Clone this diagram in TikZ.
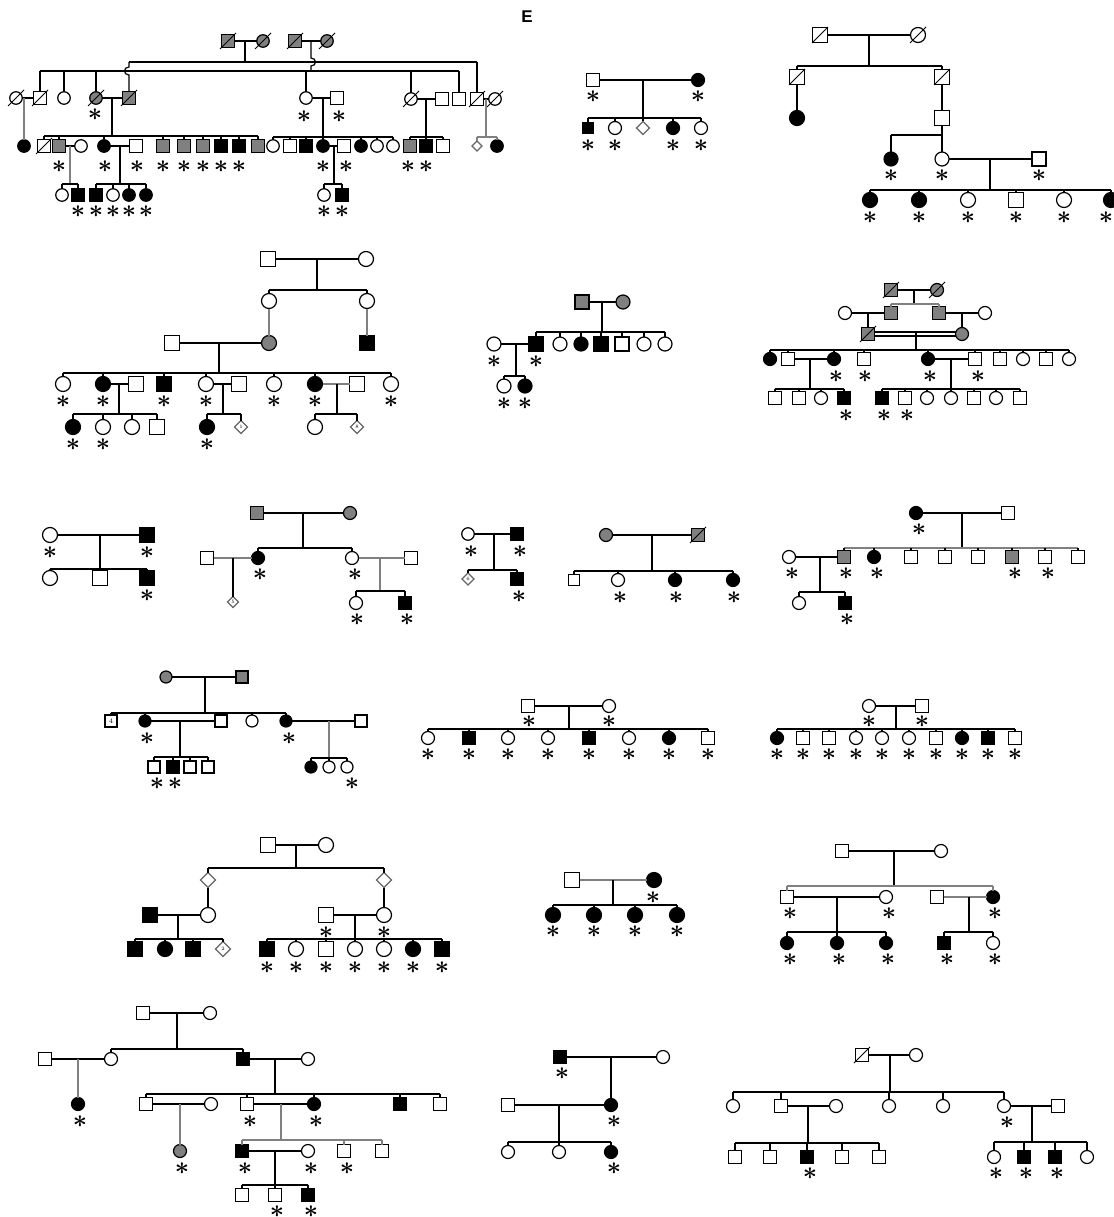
\documentclass[tikz,border=0pt]{standalone}
\usepackage{fontspec}
\newfontfamily\arialfont{Liberation Sans}
\usetikzlibrary{shapes.geometric,calc}
\colorlet{gy}{black!50}
\colorlet{gl}{black!50}
\newcounter{astc}
\def\symsz{13pt}
\tikzset{
  ln/.style={line width=1.2pt,draw=black},
  gln/.style={line width=1.2pt,draw=gl},
  sym/.style={draw=black,line width=1.2pt,inner sep=0pt,outer sep=0pt},
  msym/.style={sym,rectangle,minimum size=\symsz},
  fsym/.style={sym,circle,minimum size=\symsz},
  dsym/.style={sym,diamond,minimum size=\symsz,draw=black!60,font=\fontsize{5}{5}\selectfont},
  ast/.style={inner sep=0pt,font=\fontsize{25}{25}\selectfont\boldmath},
  dec/.style={line width=0.9pt,draw=black},
}
\newcommand\Ma[4][white]{\node[msym,fill=#1] (#2) at (#3,#4) {};}
\newcommand\Fe[4][white]{\node[fsym,fill=#1] (#2) at (#3,#4) {};}
\newcommand\Di[5][white]{\node[dsym,fill=#1] (#2) at (#3,#4) {#5};}
\newcommand\As[2]{\stepcounter{astc}\node[ast] (ast\theastc) at (#1,#2) {$\ast$};}
\newcommand\Dd[1]{\draw[dec] ([shift={(-8,8)}]#1.center) -- ([shift={(8,-8)}]#1.center);}
\newcommand\Sb[4][ln]{\draw[#1] (#2 -| #3) -- (#2 -| #4);}
\newcommand\Tk[3][ln]{\foreach \nd in {#3}{\draw[#1] (#2 -| \nd) -- (\nd);}}
\begin{document}
\begin{tikzpicture}[x=1pt,y=-1pt]
\fill[white] (0,0) rectangle (1113,1217);
\useasboundingbox (0,0) rectangle (1113,1217);
\node[font=\fontsize{17}{17}\arialfont\bfseries] (lblE) at (527,17) {E};

% ================= A
\def\symsz{12.5pt}
\Ma[gy]{aI1}{228}{41}\Dd{aI1}
\Fe[gy]{aI2}{263}{41}\Dd{aI2}
\Ma[gy]{aI3}{295}{41}\Dd{aI3}
\Fe[gy]{aI4}{327}{41}\Dd{aI4}
\draw[ln] (aI1)--(aI2); \draw[ln] (aI3)--(aI4);
\coordinate (aj1) at (245,41); \coordinate (as1) at (245,62);
\coordinate (aj2) at (311,41); \coordinate (as2) at (311,71);
\draw[ln] (aj1)--(as1);
\draw[ln] (aj2)--(311,58) .. controls (317,58) and (317,66) .. (311,66) -- (as2);
\Fe{aII1}{16}{98}\Dd{aII1}
\Ma{aII2}{40}{98}\Dd{aII2}
\Fe{aII3}{64}{98}
\Fe[gy]{aII4}{96}{98}\Dd{aII4}\As{95}{115}
\Ma[gy]{aII5}{129}{98}\Dd{aII5}
\Fe{aII6}{306}{98}\As{304}{117}
\Ma{aII7}{337}{98}\As{339}{117}
\Fe{aII8}{411}{99}\Dd{aII8}
\Ma{aII9}{442}{99}
\Ma{aII10}{459}{99}
\Ma{aII11}{477}{99}\Dd{aII11}
\Fe{aII12}{495}{99}\Dd{aII12}
\Sb{as1}{aII5}{aII11}
\Sb{as2}{aII2}{aII10}
\Tk{as2}{aII2,aII3,aII4,aII6,aII8,aII10}
\Tk{as1}{aII11}
\draw[ln] (aII5)--(129,75) .. controls (123,75) and (123,67) .. (129,67) -- (as1 -| aII5);
% gen III
\Fe[black]{aIII1}{24}{146}
\Ma{aIII2}{44}{146}\Dd{aIII2}
\Ma[gy]{aIII3}{59}{146}\As{59}{167}
\Fe{aIII4}{81}{146}
\Fe[black]{aIII5}{104}{146}\As{105}{167}
\Ma{aIII6}{136}{146}\As{137}{167}
\Ma[gy]{aIII7}{163}{146}\As{163}{167}
\Ma[gy]{aIII8}{184}{146}\As{184}{167}
\Ma[gy]{aIII9}{203}{146}\As{203}{167}
\Ma[black]{aIII10}{221}{146}\As{221}{167}
\Ma[black]{aIII11}{239}{146}\As{239}{167}
\Ma[gy]{aIII12}{258}{146}
\Fe{aIII13}{273}{146}
\Ma{aIII14}{290}{146}
\Ma[black]{aIII15}{306}{146}
\Fe[black]{aIII16}{323}{146}\As{323}{167}
\Ma{aIII17}{344}{146}\As{346}{167}
\Fe[black]{aIII18}{361}{146}
\Fe{aIII19}{377}{146}
\Fe{aIII20}{393}{146}
\Ma[gy]{aIII21}{410}{146}\As{408}{167}
\Ma[black]{aIII22}{426}{146}\As{426}{167}
\Ma{aIII23}{443}{146}
\def\symsz{10pt}\Di{aIII24}{477}{146}{}\def\symsz{12.5pt}
\Fe[black]{aIII25}{497}{146}
\draw[ln] (aII1)--(aII2); \coordinate (aj3) at (24,98); \draw[gln] (aj3)--(aIII1);
\draw[ln] (aII4)--(aII5); \coordinate (aj4) at (112,98); \coordinate (as4) at (112,136); \draw[ln] (aj4)--(as4);
\draw[ln] (aII6)--(aII7); \coordinate (aj5) at (323,98); \coordinate (as5) at (323,137); \draw[ln] (aj5)--(as5);
\draw[ln] (aII8)--(aII9); \coordinate (aj6) at (426,99); \coordinate (as6) at (426,137); \draw[ln] (aj6)--(as6);
\draw[ln] (aII11)--(aII12); \coordinate (aj7) at (486,99); \coordinate (as7) at (486,137); \draw[gln] (aj7)--(as7);
\Sb{as4}{aIII2}{aIII12}\Tk{as4}{aIII2,aIII3,aIII5,aIII7,aIII8,aIII9,aIII10,aIII11,aIII12}
\Sb{as5}{aIII13}{aIII20}\Tk{as5}{aIII13,aIII14,aIII15,aIII16,aIII18,aIII19,aIII20}
\Sb{as6}{aIII21}{aIII23}\Tk{as6}{aIII21,aIII22,aIII23}
\Sb[gln]{as7}{aIII24}{aIII25}\Tk[gln]{as7}{aIII24,aIII25}
\draw[ln] (aIII3)--(aIII4); \coordinate (aj8) at (70,146); \coordinate (as8) at (70,184); \draw[gln] (aj8)--(as8);
\draw[ln] (aIII5)--(aIII6); \coordinate (aj9) at (120,146); \coordinate (as9) at (120,184); \draw[ln] (aj9)--(as9);
\draw[ln] (aIII16)--(aIII17); \coordinate (aj10) at (334,146); \coordinate (as10) at (334,184); \draw[ln] (aj10)--(as10);
% gen IV
\Fe{aIV1}{62}{195}
\Ma[black]{aIV2}{78}{195}\As{78}{212}
\Ma[black]{aIV3}{96}{195}\As{96}{212}
\Fe{aIV4}{113}{195}\As{113}{212}
\Fe[black]{aIV5}{129}{195}\As{129}{212}
\Fe[black]{aIV6}{146}{195}\As{146}{212}
\Fe{aIV7}{324}{195}\As{324}{212}
\Ma[black]{aIV8}{342}{195}\As{342}{212}
\Sb{as8}{aIV1}{aIV2}\Tk{as8}{aIV1,aIV2}
\Sb{as9}{aIV3}{aIV6}\Tk{as9}{aIV3,aIV4,aIV5,aIV6}
\Sb{as10}{aIV7}{aIV8}\Tk{as10}{aIV7,aIV8}

% ================= B
\def\symsz{13pt}
\Ma{bI1}{593}{80}\As{593}{97}
\Fe[black]{bI2}{698}{80}\As{698}{97}
\draw[ln] (bI1)--(bI2);
\coordinate (bj1) at (643,80); \coordinate (bs1) at (643,118); \draw[ln] (bj1)--(bs1);
\def\symsz{11pt}\Ma[black]{bII1}{588}{128}\def\symsz{13pt}
\Fe{bII2}{615}{128}\Di{bII3}{643}{128}{}\Fe[black]{bII4}{673}{128}\Fe{bII5}{701}{128}
\As{588}{146}\As{615}{146}\As{673}{146}\As{701}{146}
\Sb{bs1}{bII1}{bII5}\Tk{bs1}{bII1,bII2,bII3,bII4,bII5}

% ================= C
\def\symsz{15pt}
\Ma{cI1}{820}{35}\Dd{cI1}\Fe{cI2}{918}{35}\Dd{cI2}
\draw[ln] (cI1)--(cI2); \coordinate (cj1) at (869,35); \coordinate (cs1) at (869,66); \draw[ln] (cj1)--(cs1);
\Ma{cII1}{797}{77}\Dd{cII1}\Ma{cII2}{942}{77}\Dd{cII2}
\Sb{cs1}{cII1}{cII2}\Tk{cs1}{cII1,cII2}
\Fe[black]{cIII1}{797}{118}\draw[ln] (cII1)--(cIII1);
\Ma{cIII2}{942}{118}\draw[ln] (cII2)--(cIII2);
\coordinate (cs2) at (942,135); \draw[ln] (cIII2)--(cs2);
\def\symsz{14pt}
\Fe[black]{cIV1}{891}{159}\As{891}{176}
\Fe{cIV2}{942}{159}\As{942}{176}
\Sb{cs2}{cIV1}{cIV2}\Tk{cs2}{cIV1,cIV2}
\Ma{cIV3}{1039}{159}\As{1039}{176}
\draw[ln] (cIV2)--(cIV3); \coordinate (cj3) at (990,159); \coordinate (cs3) at (990,190); \draw[ln] (cj3)--(cs3);
\def\symsz{15pt}
\Fe[black]{cV1}{870}{200}\Fe[black]{cV2}{919}{200}\Fe{cV3}{968}{200}\Ma{cV4}{1016}{200}\Fe{cV5}{1064}{200}\Fe[black]{cV6}{1111}{200}
\As{870}{218}\As{919}{218}\As{968}{218}\As{1016}{218}\As{1064}{218}\As{1106}{218}
\Sb{cs3}{cV1}{cV6}\Tk{cs3}{cV1,cV2,cV3,cV4,cV5,cV6}

% ================= D
\def\symsz{15pt}
\Ma{dI1}{268}{259}\Fe{dI2}{366}{259}
\draw[ln] (dI1)--(dI2); \coordinate (dj1) at (317,259); \coordinate (ds1) at (317,290); \draw[ln] (dj1)--(ds1);
\Fe{dII1}{269}{301}\Fe{dII2}{367}{301}
\Sb{ds1}{dII1}{dII2}\Tk{ds1}{dII1,dII2}
\Ma{dIII1}{172}{343}\Fe[gy]{dIII2}{269}{343}\Ma[black]{dIII3}{367}{343}
\draw[gln] (dII1)--(dIII2); \draw[gln] (dII2)--(dIII3);
\draw[ln] (dIII1)--(dIII2); \coordinate (dj2) at (219,343); \coordinate (ds2) at (219,373); \draw[ln] (dj2)--(ds2);
\Fe{dIV1}{63}{384}\As{63}{402}
\Fe[black]{dIV2}{103}{384}\As{103}{402}
\Ma{dIV3}{136}{384}
\Ma[black]{dIV4}{164}{384}\As{164}{402}
\Fe{dIV5}{206}{384}\As{206}{402}
\Ma{dIV6}{239}{384}
\Fe{dIV7}{274}{384}\As{274}{402}
\Fe[black]{dIV8}{315}{384}\As{315}{402}
\Ma{dIV9}{357}{384}
\Fe{dIV10}{391}{384}\As{391}{402}
\Sb{ds2}{dIV1}{dIV10}\Tk{ds2}{dIV1,dIV2,dIV4,dIV5,dIV7,dIV8,dIV10}
\draw[ln] (dIV2)--(dIV3); \coordinate (dj3) at (119,384); \coordinate (ds3) at (119,414); \draw[ln] (dj3)--(ds3);
\draw[ln] (dIV5)--(dIV6); \coordinate (dj4) at (223,384); \coordinate (ds4) at (223,414); \draw[ln] (dj4)--(ds4);
\draw[gln] (dIV8)--(dIV9); \coordinate (dj5) at (337,384); \coordinate (ds5) at (337,414); \draw[ln] (dj5)--(ds5);
\Fe[black]{dV1}{73}{427}\As{73}{445}
\Fe{dV2}{103}{427}\As{103}{445}
\Fe{dV3}{132}{427}
\Ma{dV4}{157}{427}
\Fe[black]{dV5}{207}{427}\As{207}{445}
\def\symsz{13pt}\Di{dV6}{241}{427}{1}\def\symsz{15pt}
\Fe{dV7}{315}{427}
\def\symsz{13pt}\Di{dV8}{357}{427}{8}\def\symsz{15pt}
\Sb{ds3}{dV1}{dV4}\Tk{ds3}{dV1,dV2,dV3,dV4}
\Sb{ds4}{dV5}{dV6}\Tk{ds4}{dV5,dV6}
\Sb{ds5}{dV7}{dV8}\Tk{ds5}{dV7,dV8}

% ================= F
\def\symsz{14pt}
\Ma[gy]{fI1}{582}{302}\Fe[gy]{fI2}{623}{302}
\draw[ln] (fI1)--(fI2); \coordinate (fj1) at (602,302); \coordinate (fs1) at (602,332); \draw[ln] (fj1)--(fs1);
\Fe{fII1}{494}{344}\As{494}{362}
\Ma[black]{fII2}{536}{344}\As{536}{362}
\Fe{fII3}{560}{344}\Fe[black]{fII4}{581}{344}\Ma[black]{fII5}{601}{344}\Ma{fII6}{622}{344}\Fe{fII7}{644}{344}\Fe{fII8}{665}{344}
\Sb{fs1}{fII2}{fII8}\Tk{fs1}{fII2,fII3,fII4,fII5,fII6,fII7,fII8}
\draw[ln] (fII1)--(fII2); \coordinate (fj2) at (516,344); \coordinate (fs2) at (516,376); \draw[ln] (fj2)--(fs2);
\Fe{fIII1}{504}{386}\As{504}{404}
\Fe[black]{fIII2}{525}{386}\As{525}{404}
\Sb{fs2}{fIII1}{fIII2}\Tk{fs2}{fIII1,fIII2}

% ================= G
\def\symsz{13pt}
\Ma[gy]{gI1}{891}{290}\Dd{gI1}\Fe[gy]{gI2}{937}{290}\Dd{gI2}
\draw[ln] (gI1)--(gI2); \coordinate (gj1) at (914,290); \coordinate (gs1) at (914,304); \draw[ln] (gj1)--(gs1);
\Fe{gII1}{845}{313}\Ma[gy]{gII2}{891}{313}\Ma[gy]{gII3}{939}{313}\Fe{gII4}{985}{313}
\Sb[gln]{gs1}{gII2}{gII3}\Tk[gln]{gs1}{gII2,gII3}
\draw[ln] (gII1)--(gII2); \draw[ln] (gII3)--(gII4);
\Ma[gy]{gIII1}{868}{334}\Dd{gIII1}\Fe[gy]{gIII2}{962}{334}
\coordinate (gj2) at (868,313); \coordinate (gj3) at (962,313);
\draw[ln] (gj2)--(gIII1); \draw[ln] (gj3)--(gIII2);
\draw[ln] ([yshift=2pt]gIII1.east)--([yshift=2pt]gIII2.west);
\draw[ln] ([yshift=-2pt]gIII1.east)--([yshift=-2pt]gIII2.west);
\coordinate (gj4) at (916,332); \coordinate (gs4) at (916,350); \draw[ln] (gj4)--(gs4);
\Fe[black]{gIV1}{770}{359}\Ma{gIV2}{788}{359}
\Fe[black]{gIV3}{834}{359}\As{836}{377}
\Ma{gIV4}{864}{359}\As{865}{377}
\Fe[black]{gIV5}{928}{359}\As{930}{377}
\Ma{gIV6}{975}{359}\As{978}{377}
\Ma{gIV7}{1000}{359}\Fe{gIV8}{1023}{359}\Ma{gIV9}{1046}{359}\Fe{gIV10}{1069}{359}
\Sb{gs4}{gIV1}{gIV10}\Tk{gs4}{gIV1,gIV2,gIV3,gIV4,gIV5,gIV6,gIV7,gIV8,gIV9,gIV10}
\draw[ln] (gIV2)--(gIV3); \coordinate (gj5) at (810,359); \coordinate (gs5) at (810,389); \draw[ln] (gj5)--(gs5);
\draw[ln] (gIV5)--(gIV6); \coordinate (gj6) at (951,359); \coordinate (gs6) at (951,389); \draw[ln] (gj6)--(gs6);
\Ma{gV1}{775}{398}\Ma{gV2}{799}{398}\Fe{gV3}{821}{398}\Ma[black]{gV4}{844}{398}\As{846}{416}
\Ma[black]{gV5}{882}{398}\As{884}{416}
\Ma{gV6}{905}{398}\As{907}{416}
\Fe{gV7}{927}{398}\Fe{gV8}{951}{398}\Ma{gV9}{974}{398}\Fe{gV10}{996}{398}\Ma{gV11}{1020}{398}
\Sb{gs5}{gV1}{gV4}\Tk{gs5}{gV1,gV2,gV3,gV4}
\Sb{gs6}{gV5}{gV11}\Tk{gs6}{gV5,gV6,gV7,gV8,gV9,gV10,gV11}

% ================= H
\def\symsz{15pt}
\Fe{hI1}{50}{535}\As{50}{553}
\Ma[black]{hI2}{147}{535}\As{147}{553}
\draw[ln] (hI1)--(hI2); \coordinate (hj1) at (100,535); \coordinate (hs1) at (100,569); \draw[ln] (hj1)--(hs1);
\Fe{hII1}{50}{578}\Ma{hII2}{100}{578}\Ma[black]{hII3}{147}{578}\As{147}{596}
\Sb{hs1}{hII1}{hII3}\Tk{hs1}{hII1,hII2,hII3}

% ================= I
\def\symsz{13pt}
\Ma[gy]{iI1}{257}{513}\Fe[gy]{iI2}{350}{513}
\draw[ln] (iI1)--(iI2); \coordinate (ij1) at (303,513); \coordinate (is1) at (303,548); \draw[ln] (ij1)--(is1);
\Ma{iII1}{207}{558}
\Fe[black]{iII2}{258}{558}\As{260}{575}
\Fe{iII3}{352}{558}\As{355}{575}
\Ma{iII4}{411}{558}
\Sb{is1}{iII2}{iII3}\Tk{is1}{iII2,iII3}
\draw[gln] (iII1)--(iII2); \draw[gln] (iII3)--(iII4);
\def\symsz{11pt}\Di{iIII1}{233}{602}{5}\def\symsz{13pt}
\coordinate (ij2) at (233,558); \draw[ln] (ij2)--(iIII1);
\coordinate (ij3) at (380,558); \coordinate (is3) at (380,591); \draw[gln] (ij3)--(is3);
\Fe{iIII2}{356}{603}\As{357}{620}
\Ma[black]{iIII3}{405}{603}\As{407}{620}
\Sb{is3}{iIII2}{iIII3}\Tk{is3}{iIII2,iIII3}

% ================= J
\def\symsz{12.5pt}
\Fe{jI1}{468}{534}\As{471}{552}
\Ma[black]{jI2}{517}{534}\As{520}{552}
\draw[ln] (jI1)--(jI2); \coordinate (jj1) at (494,534); \coordinate (js1) at (494,570); \draw[ln] (jj1)--(js1);
\def\symsz{12pt}\Di{jII1}{468}{579}{6}\def\symsz{12.5pt}
\Ma[black]{jII2}{517}{579}\As{519}{597}
\Sb{js1}{jII1}{jII2}\Tk{js1}{jII1,jII2}

% ================= K
\def\symsz{13pt}
\Fe[gy]{kI1}{606}{535}\Ma[gy]{kI2}{698}{535}\Dd{kI2}
\draw[ln] (kI1)--(kI2); \coordinate (kj1) at (652,535); \coordinate (ks1) at (652,571); \draw[ln] (kj1)--(ks1);
\def\symsz{11pt}\Ma{kII1}{574}{580}\def\symsz{13pt}
\Fe{kII2}{618}{580}\As{620}{598}
\Fe[black]{kII3}{675}{580}\As{676}{598}
\Fe[black]{kII4}{733}{580}\As{734}{598}
\Sb{ks1}{kII1}{kII4}\Tk{ks1}{kII1,kII2,kII3,kII4}

% ================= L
\def\symsz{13pt}
\Fe[black]{lI1}{916}{513}\As{919}{530}
\Ma{lI2}{1008}{513}
\draw[ln] (lI1)--(lI2); \coordinate (lj1) at (962,513); \coordinate (ls1) at (962,548); \draw[ln] (lj1)--(ls1);
\Fe{lII1}{789}{557}\As{792}{574}
\Ma[gy]{lII2}{844}{557}\As{846}{574}
\Fe[black]{lII3}{874}{557}\As{877}{574}
\Ma{lII4}{911}{557}\Ma{lII5}{945}{557}\Ma{lII6}{978}{557}
\Ma[gy]{lII7}{1012}{557}\As{1015}{574}
\Ma{lII8}{1045}{557}\As{1048}{574}
\Ma{lII9}{1078}{557}
\Sb[gln]{ls1}{lII2}{lII9}\Tk{ls1}{lII2,lII3,lII4,lII5,lII6,lII7,lII8,lII9}
\draw[ln] (lII1)--(lII2); \coordinate (lj2) at (820,557); \coordinate (ls2) at (820,592); \draw[ln] (lj2)--(ls2);
\Fe{lIII1}{799}{603}\Ma[black]{lIII2}{845}{603}\As{847}{620}
\Sb{ls2}{lIII1}{lIII2}\Tk{ls2}{lIII1,lIII2}

% ================= M
\def\symsz{12pt}
\Fe[gy]{mI1}{166}{677}\Ma[gy]{mI2}{242}{677}
\draw[ln] (mI1)--(mI2); \coordinate (mj1) at (205,677); \coordinate (ms1) at (205,713); \draw[ln] (mj1)--(ms1);
\node[msym,fill=white,font=\fontsize{7}{7}\selectfont] (mII1) at (111,721) {4};
\Fe[black]{mII2}{145}{721}\As{147}{739}
\Ma{mII3}{221}{721}
\Fe{mII4}{252}{721}
\Fe[black]{mII5}{286}{721}\As{289}{739}
\Ma{mII6}{361}{721}
\Sb{ms1}{mII1}{mII5}\Tk{ms1}{mII1,mII2,mII4,mII5}
\draw[ln] (mII2)--(mII3); \coordinate (mj2) at (180,721); \coordinate (ms2) at (180,757); \draw[ln] (mj2)--(ms2);
\draw[ln] (mII5)--(mII6); \coordinate (mj3) at (329,721); \coordinate (ms3) at (329,758); \draw[gln] (mj3)--(ms3);
\Ma{mIII1}{154}{767}\As{157}{784}
\Ma[black]{mIII2}{173}{767}\As{175}{784}
\Ma{mIII3}{190}{767}\Ma{mIII4}{208}{767}
\Fe[black]{mIII5}{311}{767}\Fe{mIII6}{329}{767}\Fe{mIII7}{347}{767}\As{352}{784}
\Sb{ms2}{mIII1}{mIII4}\Tk{ms2}{mIII1,mIII2,mIII3,mIII4}
\Sb{ms3}{mIII5}{mIII7}\Tk{ms3}{mIII5,mIII6,mIII7}

% ================= N
\def\symsz{13pt}
\Ma{nI1}{528}{706}\As{529}{722}
\Fe{nI2}{609}{706}\As{609}{722}
\draw[ln] (nI1)--(nI2); \coordinate (nj1) at (569,706); \coordinate (ns1) at (569,729); \draw[ln] (nj1)--(ns1);
\Fe{nII1}{428}{738}\Ma[black]{nII2}{469}{738}\Fe{nII3}{508}{738}\Fe{nII4}{548}{738}
\Ma[black]{nII5}{589}{738}\Fe{nII6}{629}{738}\Fe[black]{nII7}{669}{738}\Ma{nII8}{708}{738}
\foreach \xx in {428,469,508,548,589,629,669,708}{\As{\xx}{755}}
\Sb{ns1}{nII1}{nII8}\Tk{ns1}{nII1,nII2,nII3,nII4,nII5,nII6,nII7,nII8}

% ================= O
\def\symsz{13pt}
\Fe{oI1}{869}{706}\As{869}{722}
\Ma{oI2}{922}{706}\As{922}{722}
\draw[ln] (oI1)--(oI2); \coordinate (oj1) at (896,706); \coordinate (os1) at (896,729); \draw[ln] (oj1)--(os1);
\Fe[black]{oII1}{777}{738}\Ma{oII2}{803}{738}\Ma{oII3}{829}{738}\Fe{oII4}{856}{738}\Fe{oII5}{882}{738}
\Fe{oII6}{909}{738}\Ma{oII7}{936}{738}\Fe[black]{oII8}{962}{738}\Ma[black]{oII9}{988}{738}\Ma{oII10}{1015}{738}
\foreach \xx in {777,803,829,856,882,909,936,962,988,1015}{\As{\xx}{755}}
\Sb{os1}{oII1}{oII10}\Tk{os1}{oII1,oII2,oII3,oII4,oII5,oII6,oII7,oII8,oII9,oII10}

% ================= P
\def\symsz{15pt}
\Ma{pI1}{268}{845}\Fe{pI2}{326}{845}
\draw[ln] (pI1)--(pI2); \coordinate (pj1) at (296,845); \coordinate (ps1) at (296,868); \draw[ln] (pj1)--(ps1);
\Di{pII1}{208}{880}{}\Di{pII2}{384}{880}{}
\Sb{ps1}{pII1}{pII2}\Tk{ps1}{pII1,pII2}
\Ma[black]{pIII1}{150}{915}\Fe{pIII2}{208}{915}
\Ma{pIII3}{326}{915}\As{326}{933}
\Fe{pIII4}{384}{915}\As{384}{933}
\draw[ln] (pII1)--(pIII2); \draw[ln] (pII2)--(pIII4);
\draw[ln] (pIII1)--(pIII2); \coordinate (pj2) at (178,915); \coordinate (ps2) at (178,939); \draw[ln] (pj2)--(ps2);
\draw[ln] (pIII3)--(pIII4); \coordinate (pj3) at (355,915); \coordinate (ps3) at (355,939); \draw[ln] (pj3)--(ps3);
\Ma[black]{pIV1}{135}{949}\Fe[black]{pIV2}{165}{949}\Ma[black]{pIV3}{193}{949}\Di{pIV4}{223}{949}{2}
\Ma[black]{pIV5}{267}{949}\Fe{pIV6}{296}{949}\Ma{pIV7}{326}{949}\Fe{pIV8}{355}{949}\Fe{pIV9}{384}{949}\Fe[black]{pIV10}{413}{949}\Ma[black]{pIV11}{442}{949}
\foreach \xx in {267,296,326,355,384,413,442}{\As{\xx}{968}}
\Sb{ps2}{pIV1}{pIV4}\Tk{ps2}{pIV1,pIV2,pIV3,pIV4}
\Sb{ps3}{pIV5}{pIV11}\Tk{ps3}{pIV5,pIV6,pIV7,pIV8,pIV9,pIV10,pIV11}

% ================= Q
\def\symsz{15pt}
\Ma{qI1}{572}{880}\Fe[black]{qI2}{654}{880}\As{653}{898}
\draw[gln] (qI1)--(qI2); \coordinate (qj1) at (613,880); \coordinate (qs1) at (613,905); \draw[ln] (qj1)--(qs1);
\Fe[black]{qII1}{553}{915}\Fe[black]{qII2}{594}{915}\Fe[black]{qII3}{635}{915}\Fe[black]{qII4}{677}{915}
\foreach \xx in {553,594,635,677}{\As{\xx}{932}}
\Sb{qs1}{qII1}{qII4}\Tk{qs1}{qII1,qII2,qII3,qII4}

% ================= R
\def\symsz{13pt}
\Ma{rI1}{842}{851}\Fe{rI2}{941}{851}
\draw[ln] (rI1)--(rI2); \coordinate (rj1) at (894,851); \coordinate (rs1) at (894,886); \draw[ln] (rj1)--(rs1);
\Ma{rII1}{787}{897}\As{790}{914}
\Fe{rII2}{886}{897}\As{889}{914}
\Ma{rII3}{937}{897}
\Fe[black]{rII4}{993}{897}\As{995}{914}
\Sb[gln]{rs1}{rII1}{rII4}\Tk[gln]{rs1}{rII1,rII4}
\draw[ln] (rII1)--(rII2); \coordinate (rj2) at (837,897); \coordinate (rs2) at (837,932); \draw[ln] (rj2)--(rs2);
\draw[gln] (rII3)--(rII4); \coordinate (rj3) at (969,897); \coordinate (rs3) at (969,932); \draw[ln] (rj3)--(rs3);
\Fe[black]{rIII1}{787}{943}\Fe[black]{rIII2}{837}{943}\Fe[black]{rIII3}{886}{943}
\Ma[black]{rIII4}{944}{943}\Fe{rIII5}{993}{943}
\As{790}{960}\As{839}{960}\As{888}{960}\As{947}{960}\As{995}{960}
\Sb{rs2}{rIII1}{rIII3}\Tk{rs2}{rIII1,rIII2,rIII3}
\Sb{rs3}{rIII4}{rIII5}\Tk{rs3}{rIII4,rIII5}

% ================= S
\def\symsz{13pt}
\Ma{sI1}{143}{1013}\Fe{sI2}{210}{1013}
\draw[ln] (sI1)--(sI2); \coordinate (sj1) at (177,1013); \coordinate (ss1) at (177,1049); \draw[ln] (sj1)--(ss1);
\Ma{sII1}{45}{1059}\Fe{sII2}{111}{1059}\Ma[black]{sII3}{243}{1059}\Fe{sII4}{308}{1059}
\Sb{ss1}{sII2}{sII3}\Tk{ss1}{sII2,sII3}
\draw[ln] (sII1)--(sII2); \draw[ln] (sII3)--(sII4);
\Fe[black]{sIII0}{78}{1104}\As{80}{1122}
\coordinate (sj2) at (78,1059); \draw[gln] (sj2)--(sIII0);
\coordinate (sj3) at (275,1059); \coordinate (ss3) at (275,1094); \draw[ln] (sj3)--(ss3);
\Ma{sIII1}{146}{1104}\Fe{sIII2}{211}{1104}
\Ma{sIII3}{247}{1104}\As{250}{1122}
\Fe[black]{sIII4}{314}{1104}\As{316}{1122}
\Ma[black]{sIII5}{400}{1104}\Ma{sIII6}{440}{1104}
\Sb{ss3}{sIII1}{sIII6}\Tk{ss3}{sIII1,sIII3,sIII4,sIII5,sIII6}
\draw[ln] (sIII1)--(sIII2); \coordinate (sj4) at (180,1104);
\draw[ln] (sIII3)--(sIII4); \coordinate (sj5) at (281,1104); \coordinate (ss5) at (281,1140); \draw[gln] (sj5)--(ss5);
\Fe[gy]{sIV0}{180}{1151}\As{182}{1169}
\draw[gln] (sj4)--(sIV0);
\Ma[black]{sIV1}{242}{1151}\As{245}{1169}
\Fe{sIV2}{308}{1151}\As{311}{1169}
\Ma{sIV3}{344}{1151}\As{347}{1169}
\Ma{sIV4}{382}{1151}
\Sb[gln]{ss5}{sIV1}{sIV4}\Tk[gln]{ss5}{sIV1,sIV3,sIV4}
\draw[ln] (sIV1)--(sIV2); \coordinate (sj6) at (275,1151); \coordinate (ss6) at (275,1185); \draw[ln] (sj6)--(ss6);
\Ma{sV1}{242}{1195}\Ma{sV2}{275}{1195}\As{277}{1212}
\Ma[black]{sV3}{308}{1195}\As{311}{1212}
\Sb{ss6}{sV1}{sV3}\Tk{ss6}{sV1,sV2,sV3}

% ================= T
\def\symsz{13pt}
\Ma[black]{tI1}{560}{1057}\As{562}{1074}
\Fe{tI2}{663}{1057}
\draw[ln] (tI1)--(tI2); \coordinate (tj1) at (611,1057);
\Fe[black]{tII2}{611}{1105}\As{614}{1122}
\draw[ln] (tj1)--(tII2);
\Ma{tII1}{508}{1105}
\draw[ln] (tII1)--(tII2); \coordinate (tj2) at (559,1105); \coordinate (ts2) at (559,1142); \draw[ln] (tj2)--(ts2);
\Fe{tIII1}{508}{1152}\Fe{tIII2}{559}{1152}\Fe[black]{tIII3}{611}{1152}\As{614}{1169}
\Sb{ts2}{tIII1}{tIII3}\Tk{ts2}{tIII1,tIII2,tIII3}

% ================= U
\def\symsz{13pt}
\Ma{uI1}{862}{1055}\Dd{uI1}\Fe{uI2}{916}{1055}
\draw[ln] (uI1)--(uI2); \coordinate (uj1) at (890,1055); \coordinate (us1) at (890,1092); \draw[ln] (uj1)--(us1);
\Fe{uII1}{733}{1106}\Ma{uII2}{781}{1106}\Fe{uII3}{836}{1106}\Fe{uII4}{889}{1106}\Fe{uII5}{943}{1106}
\Fe{uII6}{1004}{1106}\As{1007}{1123}
\Ma{uII7}{1058}{1106}
\Sb{us1}{uII1}{uII6}\Tk{us1}{uII1,uII2,uII4,uII5,uII6}
\draw[ln] (uII2)--(uII3); \coordinate (uj2) at (808,1106); \coordinate (us2) at (808,1143); \draw[ln] (uj2)--(us2);
\draw[ln] (uII6)--(uII7); \coordinate (uj3) at (1032,1106); \coordinate (us3) at (1032,1142); \draw[ln] (uj3)--(us3);
\Ma{uIII1}{735}{1157}\Ma{uIII2}{770}{1157}\Ma[black]{uIII3}{807}{1157}\As{810}{1174}
\Ma{uIII4}{842}{1157}\Ma{uIII5}{879}{1157}
\Fe{uIII6}{994}{1157}\As{996}{1174}
\Ma[black]{uIII7}{1024}{1157}\As{1026}{1174}
\Ma[black]{uIII8}{1055}{1157}\As{1057}{1174}
\Fe{uIII9}{1087}{1157}
\Sb{us2}{uIII1}{uIII5}\Tk{us2}{uIII1,uIII2,uIII3,uIII4,uIII5}
\Sb{us3}{uIII6}{uIII9}\Tk{us3}{uIII6,uIII7,uIII8,uIII9}
\end{tikzpicture}
\end{document}
